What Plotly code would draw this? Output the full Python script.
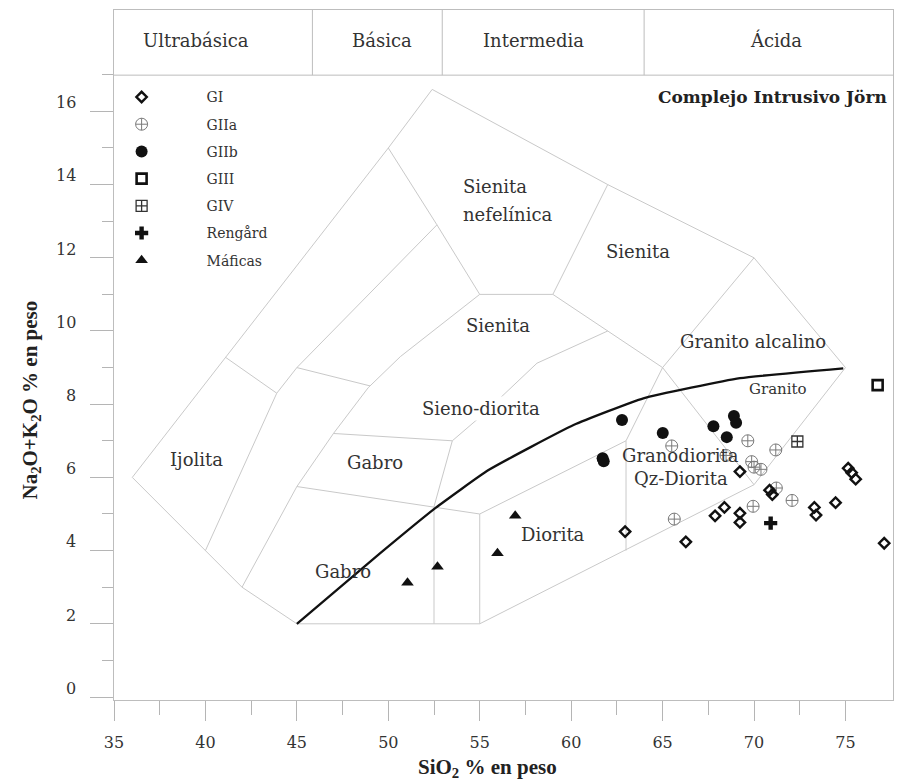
import plotly.graph_objects as go

# ---------------- data ----------------
series_names = ["GI", "GIIa", "GIIb", "GIII", "GIV", "Rengård", "Máficas"]

gi_sio2 = [69.23, 70.85, 71.0, 68.38, 67.87, 69.23, 69.23, 62.95, 66.27,
           73.3, 73.39, 74.46, 75.15, 75.34, 75.56, 77.12]
gi_alk = [6.16, 5.65, 5.53, 5.18, 4.95, 5.02, 4.77, 4.52, 4.24,
          5.18, 4.97, 5.31, 6.25, 6.13, 5.95, 4.2]

giia_sio2 = [65.5, 68.47, 69.66, 71.19, 69.87, 70.0, 70.38, 71.22, 72.08, 69.95, 65.64]
giia_alk = [6.86, 6.6, 7.0, 6.75, 6.43, 6.28, 6.22, 5.71, 5.37, 5.21, 4.86]

giib_sio2 = [61.72, 61.78, 62.78, 65.01, 67.78, 68.9, 69.02, 68.51]
giib_alk = [6.52, 6.44, 7.57, 7.21, 7.4, 7.68, 7.49, 7.1]

giii_sio2 = [76.76]
giii_alk = [8.52]

giv_sio2 = [72.37]
giv_alk = [6.98]

rengard_sio2 = [70.91]
rengard_alk = [4.75]

maficas_sio2 = [51.05, 52.69, 55.97, 56.94]
maficas_alk = [3.12, 3.56, 3.93, 4.95]

# alkaline / subalkaline divide (black curve)
divide_sio2 = [45.0, 49.56, 52.57, 55.48, 60.13, 63.95, 69.23, 74.88]
divide_alk = [2.0, 3.93, 5.16, 6.2, 7.43, 8.16, 8.71, 8.98]

# field boundaries of the plutonic TAS diagram (SiO2 list, alkalis list)
field_lines = [
    ([36.0, 50.0, 52.4, 62.0, 70.0, 75.0], [6.0, 15.0, 16.6, 14.0, 12.0, 9.0]),
    ([36.0, 40.0, 42.0, 45.0], [6.0, 4.0, 3.0, 2.0]),
    ([40.0, 43.9, 41.1], [4.0, 8.3, 9.28]),
    ([43.9, 45.0], [8.3, 9.0]),
    ([42.0, 45.0, 47.0, 48.9, 50.66, 55.0], [3.0, 5.75, 7.2, 8.45, 9.3, 11.0]),
    ([47.0, 53.5], [7.2, 7.0]),
    ([45.0, 52.5, 55.0, 63.0, 65.0], [5.75, 5.2, 5.0, 7.0, 9.0]),
    ([52.5, 52.5], [2.0, 5.2]),
    ([53.5, 52.5], [7.0, 5.2]),
    ([55.0, 55.0], [2.0, 5.0]),
    ([45.0, 55.0, 70.0, 75.0], [2.0, 2.0, 5.8, 9.0]),
    ([63.0, 63.0], [4.0, 7.0]),
    ([65.0, 70.0], [9.0, 5.8]),
    ([65.0, 70.0], [9.0, 12.0]),
    ([65.0, 62.0, 59.0], [9.0, 10.0, 11.0]),
    ([59.0, 62.0], [11.0, 14.0]),
    ([50.0, 52.66, 55.0, 59.0], [15.0, 12.9, 11.0, 11.0]),
    ([45.0, 52.66], [9.0, 12.9]),
    ([62.0, 58.13, 55.04, 53.5], [10.0, 9.12, 7.66, 7.0]),
    ([45.0, 49.0], [9.0, 8.5]),
]

# header (silica classes)
header_names = ["Ultrabásica", "Básica", "Intermedia", "Ácida"]
header_centers = [39.48, 49.67, 57.92, 71.2]
header_dividers = [45.85, 52.95, 63.99]

# field labels
field_names = ["Ijolita", "Gabro", "Gabro", "Diorita", "Sieno-diorita", "Sienita",
               "Sienita", "Granito alcalino", "Granodiorita"]
field_x = [39.52, 49.29, 47.51, 59.03, 55.07, 55.98, 63.63, 69.96, 65.96]
field_y = [6.48, 6.42, 3.42, 4.43, 7.89, 10.16, 12.17, 9.71, 6.59]

x_ticks = [35, 40, 45, 50, 55, 60, 65, 70, 75]
y_ticks = [0, 2, 4, 6, 8, 10, 12, 14, 16]
y_tick_labels = [str(v) for v in y_ticks]

# ---------------- figure ----------------
SERIF = "DejaVu Serif"
TITLE_FONT = "Liberation Serif"
GRAY = "#c9c9c9"
TXT = "#333333"
fig = go.Figure()

for xs, ys in field_lines:
    fig.add_trace(go.Scatter(x=xs, y=ys, mode="lines", line=dict(color=GRAY, width=1),
                             hoverinfo="skip", showlegend=False))

fig.add_trace(go.Scatter(x=divide_sio2, y=divide_alk, mode="lines",
                         line=dict(color="#111111", width=2.3, shape="spline", smoothing=0.4),
                         hoverinfo="skip", showlegend=False))

styles = {
    "GI": dict(symbol="diamond-open", size=8, color="#111111", line=dict(width=2.4, color="#111111")),
    "GIIa": dict(symbol="circle-cross-open", size=12, color="#7a7a7a", line=dict(width=1, color="#7a7a7a")),
    "GIIb": dict(symbol="circle", size=12, color="#111111"),
    "GIII": dict(symbol="square-open", size=10, color="#111111", line=dict(width=2.6, color="#111111")),
    "GIV": dict(symbol="square-cross-open", size=11, color="#333333", line=dict(width=1.3, color="#333333")),
    "Rengård": dict(symbol="cross", size=11, color="#111111", line=dict(width=0)),
    "Máficas": dict(symbol="triangle-up", size=11, color="#111111", line=dict(width=0)),
}
series = {
    "GI": (gi_sio2, gi_alk), "GIIa": (giia_sio2, giia_alk), "GIIb": (giib_sio2, giib_alk),
    "GIII": (giii_sio2, giii_alk), "GIV": (giv_sio2, giv_alk),
    "Rengård": (rengard_sio2, rengard_alk), "Máficas": (maficas_sio2, maficas_alk),
}
draw_order = ["GIIa", "GIIb", "GI", "GIII", "GIV", "Rengård", "Máficas"]
for name in draw_order:
    xs, ys = series[name]
    fig.add_trace(go.Scatter(x=xs, y=ys, mode="markers", name=name, marker=styles[name],
                             legendrank=series_names.index(name) + 1, legendgroup=name))

shapes = [dict(type="line", xref="x", yref="y", x0=35, x1=77.6, y0=16.99, y1=16.99,
               line=dict(color="#bdbdbd", width=1))]
for d in header_dividers:
    shapes.append(dict(type="line", xref="x", yref="y", x0=d, x1=d, y0=16.99, y1=18.77,
                       line=dict(color="#bdbdbd", width=1)))

ann = []
for t, cx in zip(header_names, header_centers):
    ann.append(dict(x=cx, y=17.95, xref="x", yref="y", text=t, showarrow=False,
                    font=dict(family=SERIF, size=18, color=TXT)))
for t, fx, fy in zip(field_names, field_x, field_y):
    ann.append(dict(x=fx, y=fy, xref="x", yref="y", text=t, showarrow=False,
                    font=dict(family=SERIF, size=18, color=TXT),
                    bgcolor="rgba(255,255,255,0)" if t != "Sieno-diorita" else "white"))
# y tick labels sit a little above their tick marks in the reference
for v, lab in zip(y_ticks, y_tick_labels):
    ann.append(dict(x=-0.046, y=v + 0.24, xref="paper", yref="y", text=lab, xanchor="right",
                    yanchor="middle", showarrow=False,
                    font=dict(family=SERIF, size=16, color=TXT)))
ann += [
    dict(x=53.98, y=13.94, xref="x", yref="y", text="Sienita", xanchor="left", showarrow=False,
         font=dict(family=SERIF, size=18, color=TXT)),
    dict(x=53.98, y=13.17, xref="x", yref="y", text="nefelínica", xanchor="left", showarrow=False,
         font=dict(family=SERIF, size=18, color=TXT)),
    dict(x=71.33, y=8.41, xref="x", yref="y", text="Granito", showarrow=False,
         font=dict(family=SERIF, size=15, color=TXT)),
    dict(x=63.32, y=5.98, xref="x", yref="y", text="Qz-Diorita", xanchor="left", showarrow=False,
         font=dict(family=SERIF, size=18, color=TXT)),
    dict(x=77.4, y=16.39, xref="x", yref="y", text="<b>Complejo Intrusivo Jörn</b>",
         xanchor="right", showarrow=False, font=dict(family=SERIF, size=17, color="#222222")),
    dict(x=0.48, y=-0.0986, xref="paper", yref="paper", yanchor="middle",
         text="<b>SiO<sub>2</sub> % en peso</b>",
         showarrow=False, font=dict(family=TITLE_FONT, size=21, color="#222222")),
    dict(x=-0.107, y=0.435, xref="paper", yref="paper", xanchor="center", yanchor="middle",
         text="<b>Na<sub>2</sub>O+K<sub>2</sub>O % en peso</b>", textangle=-90,
         showarrow=False, font=dict(family=TITLE_FONT, size=21, color="#222222")),
]

# the page adds an 8 px body margin, so the figure is sized to fit inside the 904x782 window
fig.update_layout(
    width=896, height=774,
    margin=dict(l=105.5, r=11, t=2, b=82),
    paper_bgcolor="white", plot_bgcolor="white",
    shapes=shapes, annotations=ann,
    showlegend=True,
    legend=dict(x=-0.048, y=0.8965, xanchor="left", yanchor="top", itemwidth=120,
                tracegroupgap=6, bgcolor="rgba(0,0,0,0)",
                font=dict(family=SERIF, size=14, color=TXT)),
    xaxis=dict(range=[35, 77.6], tickvals=x_ticks, ticks="outside", ticklen=20,
               tickcolor="#b5b5b5", showline=True, linecolor="#bdbdbd", mirror=True,
               showgrid=False, zeroline=False, ticklabelstandoff=8,
               tickfont=dict(family=SERIF, size=16, color=TXT),
               minor=dict(tickvals=[37.5, 42.5, 47.5, 52.5, 57.5, 62.5, 67.5, 72.5],
                          ticks="outside", ticklen=14, tickcolor="#b5b5b5")),
    yaxis=dict(range=[-0.082, 18.77], tickvals=y_ticks, ticks="outside", ticklen=23,
               tickcolor="#b5b5b5", showline=True, linecolor="#bdbdbd", mirror=True,
               showgrid=False, zeroline=False, showticklabels=False,
               minor=dict(tickvals=[1, 3, 5, 7, 9, 11, 13, 15, 17],
                          ticks="outside", ticklen=11, tickcolor="#b5b5b5")),
)

fig.write_html("out.html")
